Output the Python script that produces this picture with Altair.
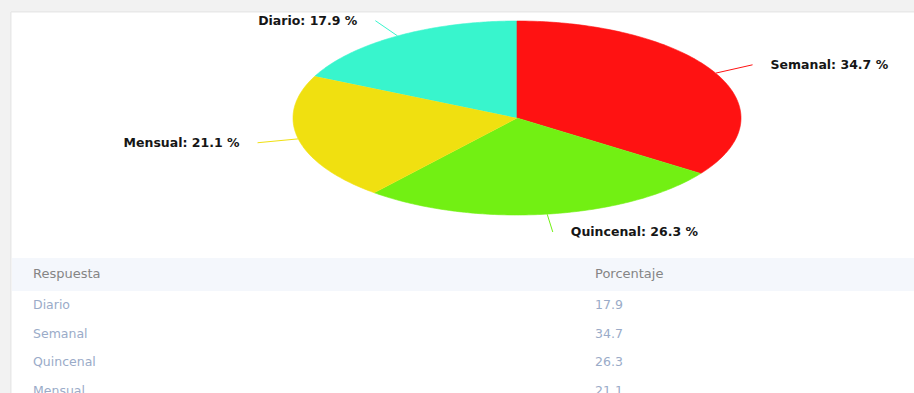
import altair as alt
import pandas as pd

# ---- data ----
categories = ["Diario", "Semanal", "Quincenal", "Mensual"]
values = [17.9, 34.7, 26.3, 21.1]
colors = ["#38F5CD", "#FF1212", "#72F013", "#F0E010"]
header = ["Respuesta", "Porcentaje"]

# ---- layout / style constants ----
W, H = 914, 393
CX, CY, RX, RY = 517, 118, 224, 97
LBL = 1.186          # label radius factor
N = 120              # arc resolution
START = -2 * 3.141592653589793 * values[0] / sum(values)

df = pd.DataFrame({"cat": categories, "val": values, "idx": list(range(len(categories)))})
df_poly = df.copy()
df_poly["k"] = [list(range(-1, N + 1)) for _ in categories]
hdr = pd.DataFrame({"txt": header, "col": list(range(len(header)))})

xs = alt.Scale(domain=[0, W], range=[0, W], nice=False, zero=False)
ys = alt.Scale(domain=[0, H], range=[0, H], nice=False, zero=False)
cscale = alt.Scale(domain=categories, range=colors)


def angles(ch):
    return (
        ch.transform_joinaggregate(total="sum(val)")
        .transform_window(cum="sum(val)", sort=[alt.SortField("idx")], frame=[None, 0])
        .transform_calculate(
            a0=f"{START} + 2*PI*(datum.cum - datum.val)/datum.total",
            a1=f"{START} + 2*PI*datum.cum/datum.total",
        )
        .transform_calculate(am="(datum.a0 + datum.a1)/2")
        .transform_calculate(
            side="sin(datum.am) >= 0 ? 1 : -1",
            ex=f"{CX} + {RX}*sin(datum.am)",
            ey=f"{CY} - {RY}*cos(datum.am)",
            lx=f"{CX} + {LBL}*{RX}*sin(datum.am)",
            ly=f"{CY} - {LBL}*{RY}*cos(datum.am)",
            lab="datum.cat + ': ' + format(datum.val, '.1f') + ' %'",
        )
        .transform_calculate(tx="datum.lx + datum.side*18")
    )


# card
card = alt.Chart(df).mark_rect(fill="white", stroke="#e8e8e8", strokeWidth=1).encode(
    x=alt.value(11), x2=alt.value(W + 5), y=alt.value(12), y2=alt.value(H + 5)
)
band = alt.Chart(df).mark_rect(fill="#f4f7fc").encode(
    x=alt.value(12), x2=alt.value(W), y=alt.value(258), y2=alt.value(291)
)

# pie slices (elliptical)
pie = (
    angles(alt.Chart(df_poly))
    .transform_flatten(["k"])
    .transform_calculate(t=f"datum.a0 + (datum.a1 - datum.a0)*max(datum.k,0)/{N}")
    .transform_calculate(
        px=f"datum.k < 0 ? {CX} : {CX} + {RX}*sin(datum.t)",
        py=f"datum.k < 0 ? {CY} : {CY} - {RY}*cos(datum.t)",
    )
    .mark_line(filled=True, strokeWidth=0.6, interpolate="linear")
    .encode(
        x=alt.X("px:Q", scale=xs, axis=None),
        y=alt.Y("py:Q", scale=ys, axis=None),
        color=alt.Color("cat:N", scale=cscale, legend=None),
        stroke=alt.Stroke("cat:N", scale=cscale, legend=None),
        detail="cat:N",
        order=alt.Order("k:Q"),
    )
)

conn = angles(alt.Chart(df)).mark_rule(strokeWidth=1).encode(
    x=alt.X("ex:Q", scale=xs, axis=None),
    y=alt.Y("ey:Q", scale=ys, axis=None),
    x2="lx:Q",
    y2="ly:Q",
    color=alt.Color("cat:N", scale=cscale, legend=None),
)

lbl_font = dict(font="DejaVu Sans", fontSize=12.5, fontWeight="bold", color="#161616", baseline="middle")
lab_r = angles(alt.Chart(df)).transform_filter("datum.side > 0").mark_text(align="left", **lbl_font).encode(
    x=alt.X("tx:Q", scale=xs, axis=None), y=alt.Y("ly:Q", scale=ys, axis=None), text="lab:N"
)
lab_l = angles(alt.Chart(df)).transform_filter("datum.side < 0").mark_text(align="right", **lbl_font).encode(
    x=alt.X("tx:Q", scale=xs, axis=None), y=alt.Y("ly:Q", scale=ys, axis=None), text="lab:N"
)

# table
head_txt = (
    alt.Chart(hdr)
    .transform_calculate(hx="datum.col == 0 ? 33 : 595", hy="274")
    .mark_text(align="left", baseline="middle", font="DejaVu Sans", fontSize=13, color="#858585")
    .encode(x=alt.X("hx:Q", scale=xs, axis=None), y=alt.Y("hy:Q", scale=ys, axis=None), text="txt:N")
)
row_cat = (
    alt.Chart(df)
    .transform_calculate(rx="33", ry="305 + datum.idx*28.7")
    .mark_text(align="left", baseline="middle", font="DejaVu Sans", fontSize=12.5, color="#9aabc8")
    .encode(x=alt.X("rx:Q", scale=xs, axis=None), y=alt.Y("ry:Q", scale=ys, axis=None), text="cat:N")
)
row_val = (
    alt.Chart(df)
    .transform_calculate(rx="595", ry="305 + datum.idx*28.7", vt="format(datum.val, '.1f')")
    .mark_text(align="left", baseline="middle", font="DejaVu Sans", fontSize=12.5, color="#9aabc8")
    .encode(x=alt.X("rx:Q", scale=xs, axis=None), y=alt.Y("ry:Q", scale=ys, axis=None), text="vt:N")
)

chart = (
    alt.layer(card, band, pie, conn, lab_r, lab_l, head_txt, row_cat, row_val)
    .properties(width=W, height=H, padding=0, autosize=alt.AutoSizeParams(type="none"), background="#f2f2f2")
    .configure_view(stroke=None)
)

chart.save("out.html", embed_options={"renderer": "svg", "actions": False})
